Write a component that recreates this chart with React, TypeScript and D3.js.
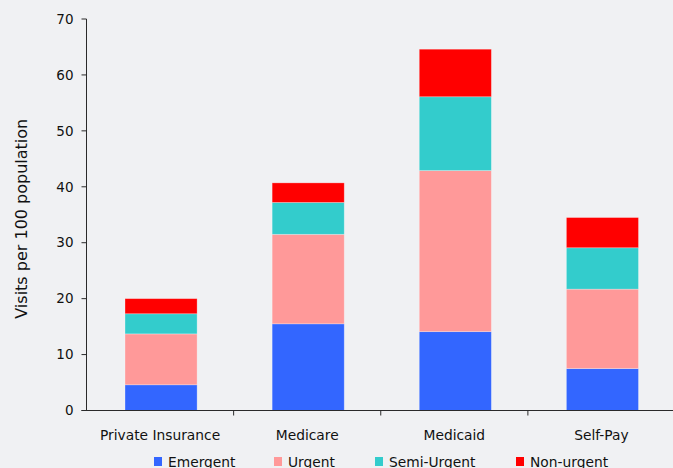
import React from "react";
import * as d3 from "d3";

const categories = ["Private Insurance", "Medicare", "Medicaid", "Self-Pay"];
const seriesNames = ["Emergent", "Urgent", "Semi-Urgent", "Non-urgent"];
const emergent = [4.6, 15.5, 14.1, 7.5];
const urgent = [9.1, 16.0, 28.8, 14.2];
const semiUrgent = [3.6, 5.7, 13.2, 7.4];
const nonUrgent = [2.7, 3.5, 8.5, 5.4];
const yTicks = [0, 10, 20, 30, 40, 50, 60, 70];
const colors = ["#3366ff", "#ff9999", "#33cccc", "#ff0000"];

const W = 673;
const H = 468;
const FONT = "'DejaVu Sans', Verdana, sans-serif";

export default function App() {
  const left = 86.5;
  const right = 675;
  const top = 19;
  const bottom = 410.5;

  const x = d3.scaleBand<string>().domain(categories).range([left + 1, right + 1]).paddingInner(0.51).paddingOuter(0.255);
  const band = d3.scaleBand<string>().domain(categories).range([left, right]);
  const y = d3.scaleLinear().domain([0, 70]).range([bottom, top]);

  const table = categories.map((c, i) => ({
    cat: c,
    Emergent: emergent[i],
    Urgent: urgent[i],
    "Semi-Urgent": semiUrgent[i],
    "Non-urgent": nonUrgent[i],
  }));
  const stacked = d3.stack<any>().keys(seriesNames)(table);

  const legendX = [154, 274, 375, 516];

  return (
    <svg width={W} height={H} style={{ position: "absolute", left: 0, top: 0, background: "#f0f1f3" }}>
      <rect x={0} y={0} width={W} height={H} fill="#f0f1f3" />
      {stacked.map((s, si) => (
        <g key={si}>
          {s.map((d: any, i: number) => (
            <rect
              key={i}
              x={x(categories[i])!}
              y={y(d[1])}
              width={x.bandwidth()}
              height={y(d[0]) - y(d[1])}
              fill={colors[si]}
              stroke="rgba(255,255,255,0.35)"
              strokeWidth={0.8}
            />
          ))}
        </g>
      ))}
      {/* y axis */}
      <line x1={left} x2={left} y1={top} y2={bottom} stroke="#2a2a2a" strokeWidth={1} />
      {yTicks.map((t) => (
        <g key={t}>
          <line x1={left - 5} x2={left} y1={y(t)} y2={y(t)} stroke="#2a2a2a" />
          <text x={left - 13} y={y(t)} dy="0.35em" textAnchor="end" fontFamily={FONT} fontSize={13.5} fill="#111">
            {t}
          </text>
        </g>
      ))}
      {/* x axis */}
      <line x1={left - 5} x2={W} y1={bottom} y2={bottom} stroke="#2a2a2a" strokeWidth={1} />
      {categories.slice(1).map((c) => (
        <line key={c} x1={band(c)!} x2={band(c)!} y1={bottom} y2={bottom + 5} stroke="#2a2a2a" />
      ))}
      {categories.map((c) => (
        <text
          key={c}
          x={band(c)! + band.bandwidth() / 2}
          y={440}
          textAnchor="middle"
          fontFamily={FONT}
          fontSize={13.8}
          fill="#111"
        >
          {c}
        </text>
      ))}
      <text
        transform={`translate(27,${(top + bottom) / 2 + 4}) rotate(-90)`}
        textAnchor="middle"
        fontFamily={FONT}
        fontSize={16}
        fill="#111"
      >
        Visits per 100 population
      </text>
      {seriesNames.map((n, i) => (
        <g key={n}>
          <rect x={legendX[i]} y={457} width={8} height={9} fill={colors[i]} />
          <text x={legendX[i] + 14} y={466.5} fontFamily={FONT} fontSize={13.8} fill="#111">
            {n}
          </text>
        </g>
      ))}
    </svg>
  );
}
